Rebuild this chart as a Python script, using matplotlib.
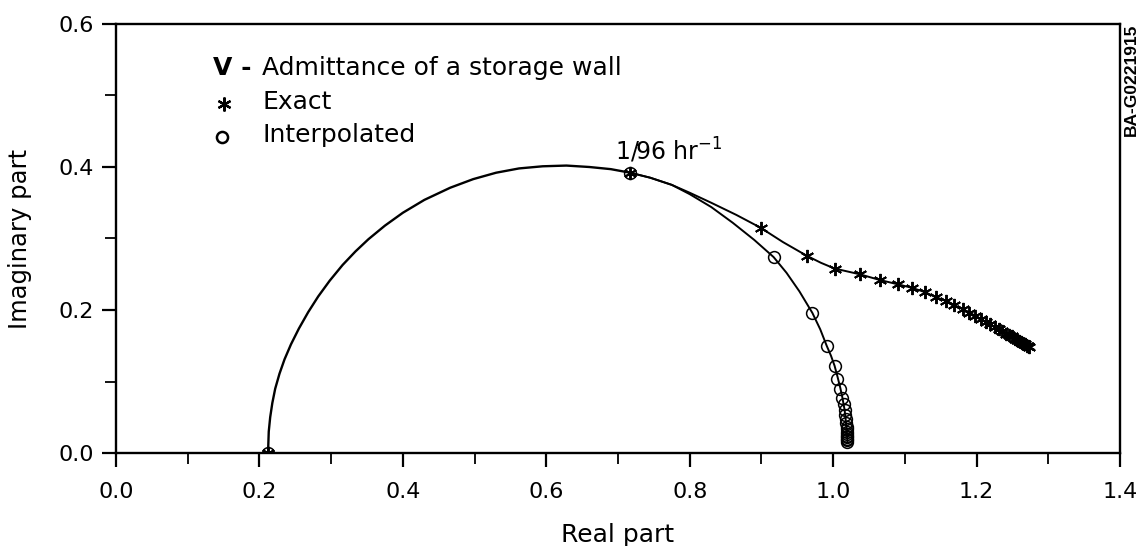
import matplotlib
matplotlib.use("Agg")
import matplotlib.pyplot as plt
from matplotlib.ticker import MultipleLocator

plt.rcParams['font.family'] = ['DejaVu Sans']

# Shared low-frequency arc (line only)
arc_x = [0.212, 0.2125, 0.213, 0.215, 0.218, 0.222, 0.228, 0.235, 0.244, 0.255,
         0.268, 0.282, 0.298, 0.316, 0.334, 0.352, 0.375, 0.400, 0.430, 0.466,
         0.498, 0.530, 0.562, 0.595, 0.628, 0.660, 0.690, 0.717]
arc_y = [0.000, 0.015, 0.030, 0.050, 0.070, 0.090, 0.111, 0.131, 0.152, 0.174,
         0.197, 0.219, 0.241, 0.263, 0.282, 0.299, 0.318, 0.336, 0.354, 0.371,
         0.383, 0.392, 0.398, 0.401, 0.402, 0.400, 0.397, 0.392]

# Exact curve continuation (line)
exact_line_x = [0.717, 0.745, 0.775, 0.800, 0.830, 0.865, 0.899, 0.930, 0.963, 0.983,
                1.002, 1.037, 1.065, 1.090, 1.110, 1.128, 1.143, 1.157, 1.169, 1.181,
                1.200, 1.220, 1.240, 1.260, 1.273]
exact_line_y = [0.392, 0.385, 0.375, 0.364, 0.350, 0.333, 0.315, 0.295, 0.276, 0.266,
                0.258, 0.250, 0.242, 0.236, 0.231, 0.225, 0.218, 0.213, 0.207, 0.201,
                0.191, 0.179, 0.168, 0.156, 0.148]

# Exact markers (stars)
exact_x = [0.212, 0.717, 0.899, 0.963, 1.002, 1.037, 1.065, 1.090, 1.110, 1.128,
           1.143, 1.157, 1.169, 1.181, 1.190, 1.198, 1.206, 1.213, 1.219, 1.225,
           1.231, 1.236, 1.241, 1.245, 1.249, 1.253, 1.256, 1.259, 1.262, 1.264,
           1.266, 1.268, 1.270, 1.272, 1.273]
exact_y = [0.000, 0.392, 0.315, 0.276, 0.258, 0.250, 0.242, 0.236, 0.231, 0.225,
           0.218, 0.213, 0.207, 0.201, 0.196, 0.192, 0.187, 0.183, 0.180, 0.176,
           0.173, 0.170, 0.167, 0.165, 0.163, 0.160, 0.158, 0.157, 0.155, 0.154,
           0.153, 0.152, 0.150, 0.149, 0.148]

# Interpolated curve continuation (line)
interp_line_x = [0.717, 0.745, 0.775, 0.800, 0.830, 0.860, 0.890, 0.917, 0.935, 0.953,
                 0.971, 0.982, 0.991, 0.997, 1.002, 1.006, 1.010, 1.013, 1.016, 1.018,
                 1.019, 1.020]
interp_line_y = [0.392, 0.385, 0.375, 0.362, 0.344, 0.322, 0.298, 0.274, 0.252, 0.226,
                 0.196, 0.173, 0.150, 0.136, 0.122, 0.107, 0.091, 0.077, 0.060, 0.042,
                 0.030, 0.016]

# Interpolated markers (circles)
interp_x = [0.212, 0.717, 0.917, 0.971, 0.991, 1.002, 1.006, 1.010, 1.013, 1.015,
            1.016, 1.017, 1.018, 1.018, 1.019, 1.019, 1.019, 1.020, 1.020, 1.020,
            1.020, 1.020, 1.020]
interp_y = [0.000, 0.392, 0.274, 0.196, 0.150, 0.122, 0.104, 0.089, 0.077, 0.068,
            0.060, 0.053, 0.047, 0.042, 0.037, 0.033, 0.030, 0.027, 0.024, 0.022,
            0.020, 0.018, 0.016]

fig = plt.figure(figsize=(11.44, 5.46), dpi=100)
ax = fig.add_axes([116/1144, 1-453/546, (1120-116)/1144, (453-24)/546])

lc = 'black'
ax.plot(arc_x, arc_y, color=lc, lw=1.7, zorder=2)
ax.plot(exact_line_x, exact_line_y, color=lc, lw=1.4, zorder=2)
ax.plot(interp_line_x, interp_line_y, color=lc, lw=1.4, zorder=2)
ax.plot(interp_x, interp_y, ls='none', marker='o', ms=8.5, mfc='none', mec=lc,
        mew=1.1, zorder=3)
ax.plot(exact_x, exact_y, ls='none', marker=(6, 2, 0), ms=9.5, mec=lc, mew=1.4, zorder=4)

ax.set_xlim(0, 1.4)
ax.set_ylim(0, 0.6)
ax.xaxis.set_major_locator(MultipleLocator(0.2))
ax.xaxis.set_minor_locator(MultipleLocator(0.1))
ax.yaxis.set_major_locator(MultipleLocator(0.2))
ax.yaxis.set_minor_locator(MultipleLocator(0.1))
ax.xaxis.set_major_formatter(plt.FuncFormatter(lambda v, p: f"{v:.1f}"))
ax.yaxis.set_major_formatter(plt.FuncFormatter(lambda v, p: f"{v:.1f}"))
ax.tick_params(which='major', direction='out', length=10, width=1.6, labelsize=16,
               top=False, right=False)
ax.tick_params(axis='x', which='major', pad=11)
ax.tick_params(axis='y', which='major', pad=6)
ax.tick_params(which='minor', direction='out', length=8, width=1.3, top=False, right=False)
for s in ax.spines.values():
    s.set_linewidth(1.7)

ax.set_xlabel("Real part", fontsize=18, labelpad=15)
ax.set_ylabel("Imaginary part", fontsize=17.5, labelpad=19)

# Legend block as text
ax.text(0.1354, 0.5385, "V -", fontsize=18, fontweight='bold', va='center', ha='left')
ax.text(0.2038, 0.5385, "Admittance of a storage wall", fontsize=18, va='center', ha='left')
ax.plot([0.150], [0.4885], ls='none', marker=(6, 2, 0), ms=10, mec=lc, mew=1.6)
ax.text(0.2038, 0.491, "Exact", fontsize=18, va='center', ha='left')
ax.plot([0.148], [0.4425], ls='none', marker='o', ms=8, mfc='none', mec=lc, mew=1.8)
ax.text(0.2038, 0.4448, "Interpolated", fontsize=18, va='center', ha='left')

ax.text(0.696, 0.409, r"1/96 hr$^{\mathregular{-1}}$", fontsize=17, ha='left', va='baseline')

fig.text(1131/1144, 1-80/546, "BA-G0221915", rotation=90, fontsize=12.5,
         family='Liberation Sans', fontweight='bold', ha='center', va='center')

fig.savefig("out.png", dpi=100)
